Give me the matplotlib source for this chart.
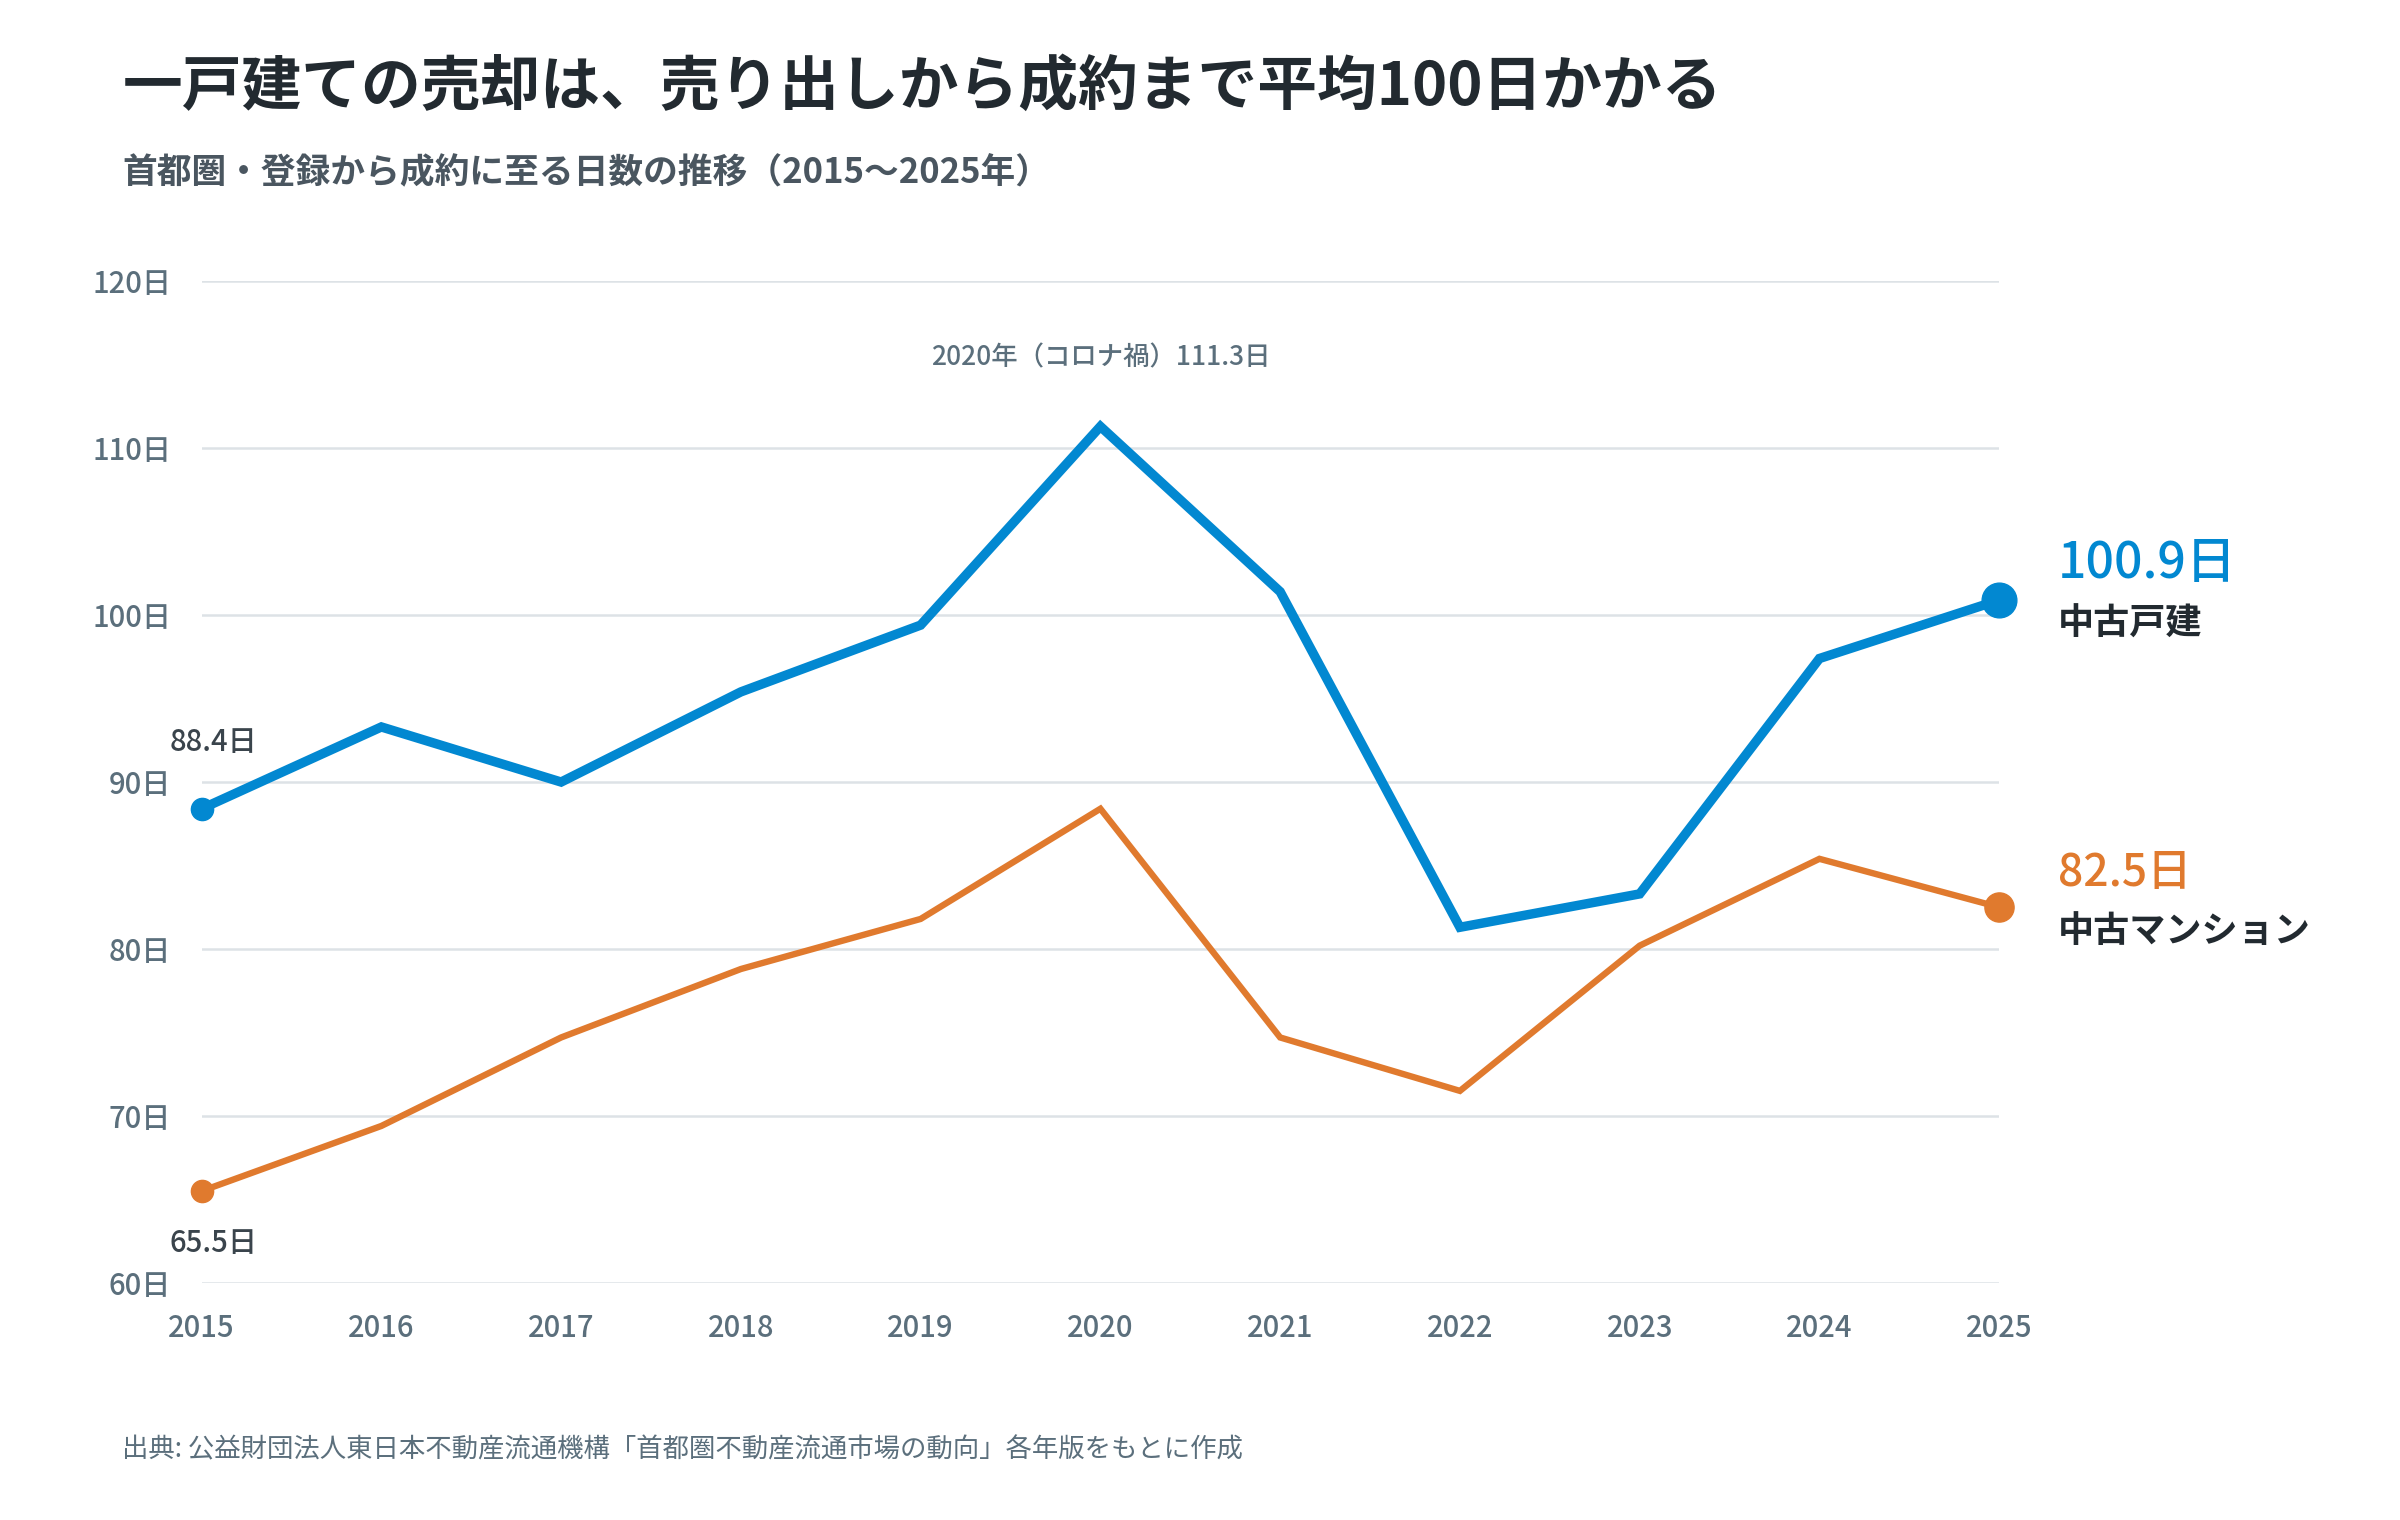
import matplotlib
matplotlib.use("Agg")
import matplotlib.pyplot as plt

plt.rcParams['font.family'] = ['Noto Sans CJK JP', 'DejaVu Sans']

years = [2015, 2016, 2017, 2018, 2019, 2020, 2021, 2022, 2023, 2024, 2025]
house = [88.4, 93.3, 90.0, 95.4, 99.4, 111.3, 101.4, 81.3, 83.3, 97.4, 100.9]
condo = [65.5, 69.4, 74.7, 78.8, 81.8, 88.4, 74.7, 71.5, 80.2, 85.4, 82.5]
yticks = [60, 70, 80, 90, 100, 110, 120]

BLUE = "#0288d1"
ORANGE = "#e07a2e"
GREY = "#5b6f7c"
DARK = "#222a30"

fig = plt.figure(figsize=(24, 15.2), dpi=100)
ax = fig.add_axes([0.084, 0.156, 0.749, 0.659])

ax.plot(years, house, color=BLUE, lw=6.8, solid_joinstyle="miter", zorder=3, clip_on=False)
ax.plot(years, condo, color=ORANGE, lw=4.6, solid_joinstyle="miter", zorder=3, clip_on=False)
ax.plot(years[0], house[0], "o", color=BLUE, ms=16, zorder=4, clip_on=False)
ax.plot(years[0], condo[0], "o", color=ORANGE, ms=16, zorder=4, clip_on=False)
ax.plot(years[-1], house[-1], "o", color=BLUE, ms=25, zorder=4, clip_on=False)
ax.plot(years[-1], condo[-1], "o", color=ORANGE, ms=21, zorder=4, clip_on=False)

ax.set_xlim(2015, 2025)
ax.set_ylim(60, 120)
ax.set_yticks(yticks)
ax.set_yticklabels([f"{v}日" for v in yticks])
ax.set_xticks(years)
ax.set_xticklabels([str(y) for y in years])
ax.grid(axis="y", color="#dde2e6", lw=1.8)
ax.set_axisbelow(True)
for s in ax.spines.values():
    s.set_visible(False)
ax.tick_params(length=0, labelsize=21, labelcolor=GREY)
ax.tick_params(axis="x", pad=22)
ax.tick_params(axis="y", pad=22)
for lab in ax.get_xticklabels() + ax.get_yticklabels():
    lab.set_fontweight("medium")

ax.annotate(f"{house[0]}日", (years[0], house[0]), xytext=(-23, 48), textcoords="offset points",
            fontsize=21, color="#3a444c", fontweight="medium", va="center")
ax.annotate(f"{condo[0]}日", (years[0], condo[0]), xytext=(-23, -38), textcoords="offset points",
            fontsize=21, color="#3a444c", fontweight="medium", va="center")
ax.annotate(f"2020年（コロナ禍）{house[5]}日", (years[5], house[5]), xytext=(0, 49),
            textcoords="offset points", ha="center", va="center", fontsize=19, color=GREY,
            fontweight="medium")

ax.annotate(f"{house[-1]}日", (years[-1], house[-1]), xytext=(42, 8), textcoords="offset points",
            fontsize=36, color=BLUE, fontweight="medium", va="bottom")
ax.annotate("中古戸建", (years[-1], house[-1]), xytext=(42, -4), textcoords="offset points",
            fontsize=26, color=DARK, fontweight="bold", va="top")
ax.annotate(f"{condo[-1]}日", (years[-1], condo[-1]), xytext=(42, 8), textcoords="offset points",
            fontsize=32, color=ORANGE, fontweight="medium", va="bottom")
ax.annotate("中古マンション", (years[-1], condo[-1]), xytext=(42, -4), textcoords="offset points",
            fontsize=26, color=DARK, fontweight="bold", va="top")

fig.text(0.051, 0.942, "一戸建ての売却は、売り出しから成約まで平均100日かかる",
         fontsize=43, fontweight="bold", color=DARK, va="center")
fig.text(0.051, 0.886, "首都圏・登録から成約に至る日数の推移（2015〜2025年）",
         fontsize=25, fontweight="bold", color="#4a5660", va="center")
fig.text(0.051, 0.046, "出典: 公益財団法人東日本不動産流通機構「首都圏不動産流通市場の動向」各年版をもとに作成",
         fontsize=19, color=GREY, va="center")

fig.savefig("out.png", dpi=100, facecolor="white")
